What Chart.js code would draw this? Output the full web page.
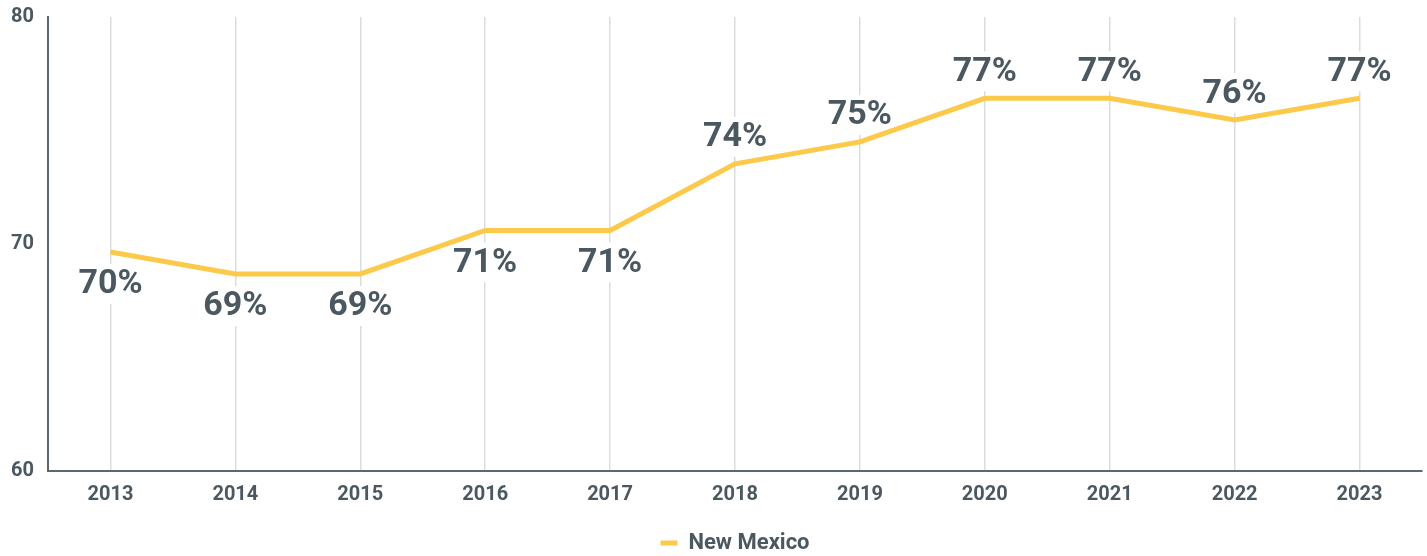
<!DOCTYPE html>
<html>
<head>
<meta charset="utf-8">
<script src="https://cdn.jsdelivr.net/npm/chart.js@4.4.1/dist/chart.umd.min.js"></script>
<style>
  html, body { margin: 0; padding: 0; background: #ffffff; }
  #wrap { width: 1427px; height: 556px; position: relative; }
</style>
</head>
<body>
<div id="wrap"><canvas id="c" width="1427" height="556"></canvas></div>
<script>
const years = ['2013','2014','2015','2016','2017','2018','2019','2020','2021','2022','2023'];
const newMexico = [69.65, 68.68, 68.68, 70.6, 70.6, 73.53, 74.5, 76.42, 76.42, 75.46, 76.42];
const valueLabels = ['70%','69%','69%','71%','71%','74%','75%','77%','77%','76%','77%'];
const seriesName = 'New Mexico';
const yTicks = [60, 70, 80];

const TEXT = '#4b5860';
const LINE = '#fdc94a';
const FONT = 'Roboto, "DejaVu Sans", sans-serif';

// labels for the first five years sit below the line, others above
const labelBelow = [true, true, true, true, true, false, false, false, false, false, false];

const labelPlugin = {
  id: 'valueLabels',
  afterLayout(chart) {
    // centre the legend under the plot area rather than the whole canvas
    const lg = chart.legend;
    if (lg) {
      const shift = (chart.chartArea.left + chart.chartArea.right) / 2 - (lg.left + lg.right) / 2;
      lg.left += shift;
      lg.right += shift;
    }
  },
  beforeDatasetsDraw(chart) {
    const ctx = chart.ctx;
    const meta = chart.getDatasetMeta(0);
    ctx.save();
    ctx.font = 'bold 34px ' + FONT;
    ctx.textAlign = 'center';
    ctx.textBaseline = 'middle';
    meta.data.forEach((pt, i) => {
      const txt = valueLabels[i];
      const y = labelBelow[i] ? pt.y + 32 : pt.y - 27;
      const w = ctx.measureText(txt).width;
      ctx.fillStyle = '#ffffff';
      ctx.fillRect(pt.x - w / 2 - 4, y - 20, w + 8, 40);
      ctx.fillStyle = TEXT;
      ctx.fillText(txt, pt.x, y + 1);
    });
    ctx.restore();
  }
};

new Chart(document.getElementById('c'), {
  type: 'line',
  data: {
    labels: years,
    datasets: [{
      label: seriesName,
      data: newMexico,
      borderColor: LINE,
      backgroundColor: LINE,
      borderWidth: 5,
      pointRadius: 0,
      pointHoverRadius: 0,
      tension: 0,
      fill: false
    }]
  },
  options: {
    responsive: false,
    animation: false,
    layout: { padding: { top: 17, right: 5, left: 0, bottom: -8 } },
    plugins: {
      legend: {
        position: 'bottom',
        labels: {
          boxWidth: 17,
          boxHeight: 5,
          padding: 3,
          color: TEXT,
          font: { family: FONT, size: 22, weight: 'bold' },
          generateLabels(chart) {
            const items = Chart.defaults.plugins.legend.labels.generateLabels(chart);
            items.forEach(it => { it.lineWidth = 0; it.strokeStyle = 'rgba(0,0,0,0)'; });
            return items;
          }
        }
      },
      tooltip: { enabled: false }
    },
    scales: {
      x: {
        offset: true,
        grid: { display: true, color: '#d9dde1', lineWidth: 1.5, drawTicks: false, offset: false },
        border: { display: true, color: '#5c676e', width: 2 },
        ticks: { color: TEXT, font: { family: FONT, size: 20, weight: 'bold' }, padding: 12 },
        afterFit(s) { s.height = 58; }
      },
      y: {
        min: 60,
        max: 80,
        afterBuildTicks(s) { s.ticks = yTicks.map(v => ({ value: v })); },
        grid: { display: false, drawTicks: false },
        border: { display: true, color: '#5c676e', width: 2 },
        ticks: { color: TEXT, font: { family: FONT, size: 20, weight: 'bold' }, padding: 14 },
        afterFit(s) { s.width = 48; s.paddingTop = 0; s.paddingBottom = 0; }
      }
    }
  },
  plugins: [labelPlugin]
});
</script>
</body>
</html>
